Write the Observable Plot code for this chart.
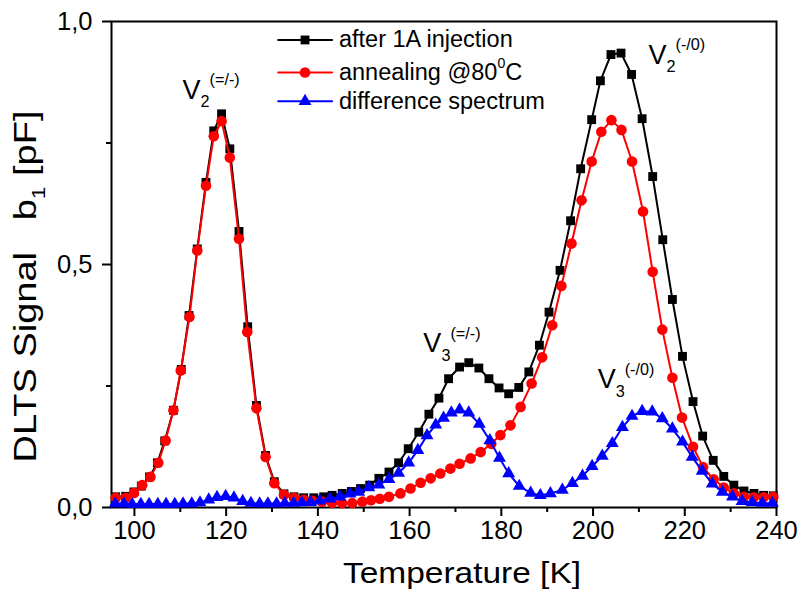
<!DOCTYPE html>
<html><head><meta charset="utf-8">
<script src="https://cdn.jsdelivr.net/npm/d3@7"></script>
<script src="https://cdn.jsdelivr.net/npm/@observablehq/plot@0.6"></script>
<style>
html,body{margin:0;padding:0;background:#fff;}
svg text{white-space:pre;}
svg [aria-label="x-axis tick label"], svg [aria-label="y-axis tick label"]{font-size:25.5px;}
</style></head><body><div id="chart"></div>
<script>
// ---- data ----
const injT = [95.9, 98.1, 99.9, 101.5, 103.3, 105.0, 106.6, 108.5, 110.2, 111.9, 113.7, 115.6, 117.3, 119.0, 120.8, 122.8, 124.7, 126.6, 128.6, 130.5, 132.6, 134.8, 136.9, 139.1, 141.3, 143.1, 145.3, 147.3, 149.3, 151.3, 153.3, 155.5, 157.6, 159.7, 162.0, 164.2, 166.4, 168.5, 170.9, 172.9, 175.1, 177.3, 179.5, 181.6, 183.8, 186.0, 188.3, 190.4, 192.8, 195.1, 197.3, 199.7, 201.6, 203.9, 206.1, 208.4, 210.7, 213.0, 215.2, 217.3, 219.5, 221.8, 223.9, 226.2, 228.5, 230.7, 232.9, 235.1, 237.2, 239.3];
const injV = [0.022, 0.023, 0.032, 0.044, 0.063, 0.092, 0.137, 0.200, 0.284, 0.395, 0.532, 0.669, 0.775, 0.810, 0.738, 0.568, 0.372, 0.210, 0.107, 0.053, 0.028, 0.022, 0.020, 0.020, 0.022, 0.025, 0.029, 0.033, 0.039, 0.046, 0.060, 0.073, 0.092, 0.121, 0.155, 0.192, 0.225, 0.265, 0.289, 0.298, 0.287, 0.265, 0.246, 0.234, 0.247, 0.279, 0.334, 0.402, 0.488, 0.590, 0.697, 0.798, 0.878, 0.932, 0.935, 0.891, 0.800, 0.681, 0.551, 0.428, 0.311, 0.218, 0.147, 0.097, 0.064, 0.046, 0.034, 0.029, 0.025, 0.024];

const annT = [95.9, 98.1, 99.9, 101.7, 103.5, 105.2, 106.8, 108.5, 110.1, 112.0, 113.7, 115.6, 117.3, 119.0, 120.8, 122.8, 124.6, 126.6, 128.6, 130.5, 132.6, 134.8, 136.9, 138.8, 140.9, 143.1, 145.3, 147.5, 149.7, 151.6, 153.5, 155.5, 158.0, 160.2, 162.4, 164.6, 166.7, 168.9, 170.9, 173.3, 175.5, 177.8, 179.8, 182.0, 184.2, 186.6, 188.9, 191.1, 193.1, 195.3, 197.5, 199.7, 201.8, 204.0, 206.2, 208.5, 210.9, 213.0, 215.1, 217.3, 219.4, 221.8, 224.0, 226.3, 228.5, 230.7, 232.9, 235.1, 237.2, 239.3];
const annV = [0.020, 0.020, 0.030, 0.046, 0.063, 0.092, 0.138, 0.200, 0.282, 0.392, 0.529, 0.662, 0.764, 0.795, 0.720, 0.553, 0.361, 0.204, 0.104, 0.050, 0.026, 0.020, 0.016, 0.014, 0.012, 0.010, 0.009, 0.009, 0.012, 0.015, 0.018, 0.022, 0.029, 0.039, 0.051, 0.060, 0.070, 0.080, 0.090, 0.101, 0.114, 0.131, 0.149, 0.169, 0.207, 0.255, 0.309, 0.375, 0.456, 0.543, 0.632, 0.712, 0.773, 0.797, 0.777, 0.712, 0.609, 0.485, 0.366, 0.267, 0.185, 0.125, 0.083, 0.058, 0.041, 0.029, 0.022, 0.021, 0.021, 0.022];

const difT = [95.8, 97.7, 99.5, 101.4, 103.2, 105.1, 106.9, 108.8, 110.6, 112.5, 114.3, 116.2, 118.0, 119.9, 121.7, 123.6, 125.4, 127.3, 129.1, 131.0, 132.8, 134.7, 136.5, 138.4, 140.4, 142.6, 144.8, 147.0, 148.9, 151.1, 153.3, 155.5, 157.6, 159.8, 161.8, 163.8, 165.7, 167.4, 169.1, 170.9, 172.9, 175.2, 177.5, 179.6, 181.6, 183.9, 186.4, 188.5, 190.7, 193.3, 195.5, 197.7, 199.8, 202.0, 204.2, 206.4, 208.5, 210.7, 212.9, 215.1, 217.3, 219.5, 221.6, 223.8, 226.0, 228.2, 230.4, 232.5, 234.7, 236.9, 239.1];
const difV = [0.008, 0.008, 0.007, 0.007, 0.007, 0.007, 0.007, 0.007, 0.008, 0.008, 0.010, 0.016, 0.021, 0.023, 0.020, 0.013, 0.009, 0.008, 0.008, 0.008, 0.009, 0.009, 0.010, 0.011, 0.014, 0.018, 0.022, 0.028, 0.032, 0.041, 0.047, 0.058, 0.071, 0.092, 0.118, 0.148, 0.170, 0.184, 0.195, 0.201, 0.195, 0.172, 0.138, 0.102, 0.070, 0.044, 0.030, 0.025, 0.029, 0.036, 0.050, 0.065, 0.085, 0.106, 0.132, 0.165, 0.188, 0.198, 0.197, 0.183, 0.162, 0.135, 0.104, 0.075, 0.049, 0.032, 0.022, 0.013, 0.011, 0.009, 0.009];

const seriesNames = ["after 1A injection", "annealing @80^{0}C", "difference spectrum"];
const seriesColors = ["#000000", "#ff0000", "#0000ff"];
const seriesSymbols = ["square", "circle", "triangle"];

const xTicks = [100, 120, 140, 160, 180, 200, 220, 240];
const xMinorTicks = [110, 130, 150, 170, 190, 210, 230];
const yTicks = [0, 0.5, 1];
const yTickLabels = ["0,0", "0,5", "1,0"];
const yMinorTicks = [0.25, 0.75];

const xTitle = "Temperature [K]";
const yTitle = "DLTS Signal   b_{1} [pF]";

const peakNames = ["V_{2}^{(=/-)}", "V_{2}^{(-/0)}", "V_{3}^{(=/-)}", "V_{3}^{(-/0)}"];
const peakAnchorT = [110.5, 212.1, 163.0, 201.0];
const peakAnchorV = [0.841, 0.913, 0.319, 0.245];

// ---- layout constants ----
const legendY = [0.962, 0.895, 0.836];
const legendLineT = [131.35, 143.1];
const legendMarkT = 137.2;
const legendTextT = 144.6;
const markerR = [5, 5.3, 4.8];
const textLengths = {[xTitle]: 238, [yTitle]: 352};

const seriesT = [injT, annT, difT];
const seriesV = [injV, annV, difV];

const marks = [
  Plot.frame({stroke: "black", strokeWidth: 2}),
  Plot.axisX({ticks: xTicks, tickSize: 9, tickPadding: 4, fontSize: 25.5, label: null, strokeWidth: 2}),
  Plot.axisX({ticks: xMinorTicks, tickSize: 5, tickFormat: () => "", label: null, strokeWidth: 2}),
  Plot.axisY({ticks: yTicks, tickSize: 9, tickPadding: 10, fontSize: 25.5, label: null, strokeWidth: 2,
    tickFormat: d => yTickLabels[yTicks.indexOf(d)]}),
  Plot.axisY({ticks: yMinorTicks, tickSize: 5, tickFormat: () => "", label: null, strokeWidth: 2})
];

seriesT.forEach((T, k) => {
  const d = T.map((t, i) => ({T: t, v: seriesV[k][i]})).filter(p => p.v != null);
  marks.push(Plot.line(d, {x: "T", y: "v", stroke: seriesColors[k], strokeWidth: 2}));
  marks.push(Plot.dot(d, {x: "T", y: "v", symbol: seriesSymbols[k], fill: seriesColors[k], r: markerR[k]}));
});

// legend
seriesNames.forEach((name, k) => {
  const y = legendY[k];
  marks.push(Plot.line([{T: legendLineT[0], v: y}, {T: legendLineT[1], v: y}], {x: "T", y: "v", stroke: seriesColors[k], strokeWidth: 2}));
  marks.push(Plot.dot([{T: legendMarkT, v: y}], {x: "T", y: "v", symbol: seriesSymbols[k], fill: seriesColors[k], r: markerR[k]}));
  marks.push(Plot.text([{T: legendTextT, v: y, label: name}], {x: "T", y: "v", text: "label", textAnchor: "start", lineAnchor: "middle", fontSize: 23.5, fill: "black"}));
});

// peak annotations
const peaks = peakNames.map((n, i) => ({T: peakAnchorT[i], v: peakAnchorV[i], label: n}));
marks.push(Plot.text(peaks, {x: "T", y: "v", text: "label", textAnchor: "start", lineAnchor: "bottom", fontSize: 27, fill: "black"}));

// axis titles
marks.push(Plot.text([xTitle], {text: d => d, frameAnchor: "bottom", dx: 18, dy: 75, lineAnchor: "bottom", textAnchor: "middle", fontSize: 29, fill: "black"}));
marks.push(Plot.text([yTitle], {text: d => d, frameAnchor: "left", rotate: -90, dx: -76, dy: 22, lineAnchor: "bottom", textAnchor: "middle", fontSize: 31, fill: "black"}));

const svg = Plot.plot({
  width: 801, height: 592,
  marginLeft: 111, marginRight: 25, marginTop: 21, marginBottom: 85,
  x: {domain: [95, 240]},
  y: {domain: [0, 1]},
  style: {fontFamily: "'Liberation Sans', Arial, sans-serif", background: "white", color: "black", overflow: "visible"},
  marks
});
document.getElementById("chart").appendChild(svg);

// rich text: _{sub} and ^{sup}
const NS = "http://www.w3.org/2000/svg";
function richify(el, s) {
  const fs = parseFloat(getComputedStyle(el).fontSize) || 20;
  const parts = [];
  const re = /([_^])\{([^}]*)\}/g;
  let last = 0, m;
  while ((m = re.exec(s))) {
    if (m.index > last) parts.push({t: s.slice(last, m.index), k: 0});
    parts.push({t: m[2], k: m[1] === "_" ? 1 : -1});
    last = re.lastIndex;
  }
  if (last < s.length) parts.push({t: s.slice(last), k: 0});
  el.textContent = "";
  let cur = 0;
  for (const p of parts) {
    const off = p.k === 1 ? 0.32 * fs : p.k === -1 ? -0.5 * fs : 0;
    const ts = document.createElementNS(NS, "tspan");
    ts.setAttribute("dy", (off - cur).toFixed(2));
    cur = off;
    if (p.k) ts.setAttribute("font-size", (0.6 * fs).toFixed(2));
    ts.textContent = p.t;
    el.appendChild(ts);
  }
}
svg.querySelectorAll("text").forEach(el => {
  const s = el.textContent;
  const L = textLengths[s];
  if (/[_^]\{/.test(s)) richify(el, s);
  if (L) { el.setAttribute("textLength", L); el.setAttribute("lengthAdjust", "spacingAndGlyphs"); }
});
</script>
</body></html>
